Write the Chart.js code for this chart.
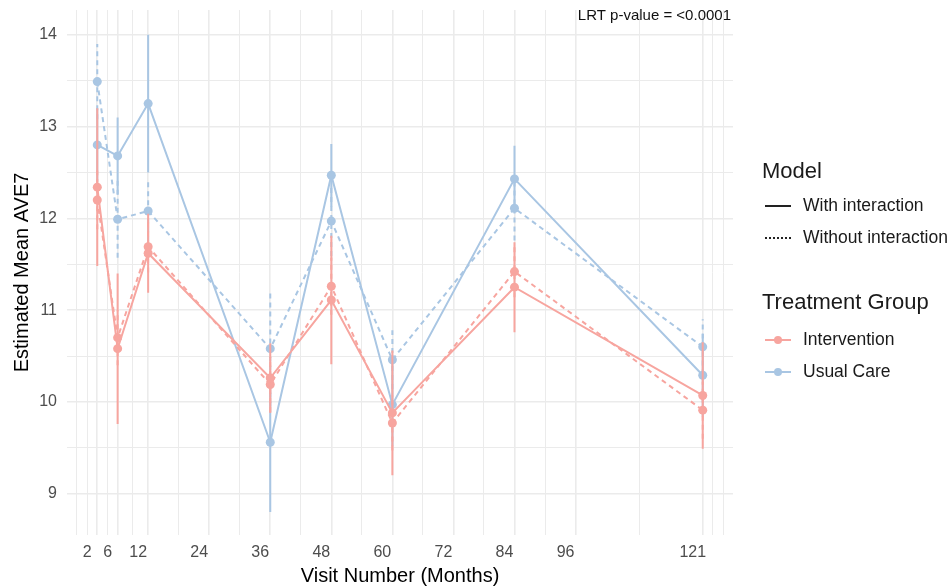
<!DOCTYPE html>
<html>
<head>
<meta charset="utf-8">
<script src="https://cdn.jsdelivr.net/npm/chart.js@4"></script>
<style>
  body { margin: 0; background: #fff; font-family: 'Liberation Sans', Arial, sans-serif; }
  #wrap { position: relative; width: 952px; height: 588px; overflow: hidden; }
  .leg { position: absolute; color: #1a1a1a; white-space: nowrap; }
  .legTitle { font-size: 22px; left: 762px; }
  .legItem { font-size: 17.5px; left: 803px; }
  .key { position: absolute; left: 765px; width: 26px; height: 0; }
  .dot { position: absolute; left: 774px; width: 8px; height: 8px; border-radius: 50%; }
</style>
</head>
<body>
<div id="wrap">
  <canvas id="chart" width="952" height="588"></canvas>

  <div class="leg legTitle" style="top:158px">Model</div>
  <div class="key" style="top:205px; border-top:2px solid #222"></div>
  <div class="leg legItem" style="top:195px">With interaction</div>
  <div class="key" style="top:237px; border-top:2px dotted #222"></div>
  <div class="leg legItem" style="top:227px">Without interaction</div>

  <div class="leg legTitle" style="top:289px">Treatment Group</div>
  <div class="key" style="top:339px; border-top:2px solid #F7A59F"></div>
  <div class="dot" style="top:336px; background:#F7A59F"></div>
  <div class="leg legItem" style="top:329px">Intervention</div>
  <div class="key" style="top:371px; border-top:2px solid #A9C6E3"></div>
  <div class="dot" style="top:368px; background:#A9C6E3"></div>
  <div class="leg legItem" style="top:361px">Usual Care</div>
</div>

<script>
// visit months and axis breaks
const visits = [2, 6, 12, 36, 48, 60, 84, 121];
const xBreaks = [2, 6, 12, 24, 36, 48, 60, 72, 84, 96, 121];
const xMinor = [-2, 0, 4, 9, 18, 30, 42, 54, 66, 78, 90, 108.5, 123, 125];
const yBreaks = [9, 10, 11, 12, 13, 14];
const yMinor = [9.5, 10.5, 11.5, 12.5, 13.5];

// Intervention
const intWith = [12.34, 10.58, 11.62, 10.26, 11.11, 9.88, 11.25, 10.07];
const intWithErr = [0.86, 0.82, 0.43, 0.38, 0.70, 0.68, 0.49, 0.58];
const intWithout = [12.20, 10.70, 11.69, 10.19, 11.26, 9.77, 11.42, 9.91];
const intWithoutErr = [0.32, 0.30, 0.28, 0.30, 0.31, 0.30, 0.28, 0.31];

// Usual Care
const ucWith = [12.80, 12.68, 13.25, 9.56, 12.47, 9.97, 12.43, 10.29];
const ucWithErr = [0.40, 0.42, 0.75, 0.76, 0.34, 0.45, 0.36, 0.45];
const ucWithout = [13.49, 11.99, 12.08, 10.58, 11.97, 10.46, 12.11, 10.60];
const ucWithoutErr = [0.41, 0.42, 0.33, 0.63, 0.38, 0.32, 0.35, 0.30];

const pink = '#F7A59F';
const blue = '#A9C6E3';
const gridColor = '#EBEBEB';
const fontFam = '"Liberation Sans", Arial, sans-serif';

function pts(vals) {
    return visits.map((v, i) => ({ x: v, y: vals[i] }));
}

// vertical error bars as broken line segments
function errPts(vals, errs) {
    const out = [];
    visits.forEach((v, i) => {
        out.push({ x: v, y: vals[i] - errs[i] });
        out.push({ x: v, y: vals[i] + errs[i] });
        out.push({ x: v, y: null });
    });
    return out;
}

function lineSet(label, vals, color, dashed) {
    return {
        label: label,
        data: pts(vals),
        borderColor: color,
        backgroundColor: color,
        borderWidth: 2,
        borderDash: dashed ? [5, 4] : [],
        pointRadius: 4.5,
        pointBorderWidth: 0,
        pointBackgroundColor: color,
        tension: 0
    };
}

function errSet(vals, errs, color, dashed) {
    return {
        data: errPts(vals, errs),
        borderColor: color,
        borderWidth: 2,
        borderDash: dashed ? [5, 4] : [],
        pointRadius: 0,
        spanGaps: false
    };
}

// LRT annotation in top right of plot
const lrtText = {
    id: 'lrtText',
    afterDraw(chart) {
        const ctx = chart.ctx;
        ctx.save();
        ctx.font = '15px ' + fontFam;
        ctx.fillStyle = '#111';
        ctx.textAlign = 'right';
        ctx.textBaseline = 'middle';
        ctx.fillText('LRT p-value = <0.0001', chart.chartArea.right - 2, 16);
        ctx.restore();
    }
};

const xGrid = xBreaks.concat(xMinor).sort((a, b) => a - b);
const yGrid = yBreaks.concat(yMinor).sort((a, b) => a - b);

new Chart(document.getElementById('chart'), {
    type: 'line',
    data: {
        datasets: [
            lineSet('Intervention - with', intWith, pink, false),
            lineSet('Intervention - without', intWithout, pink, true),
            errSet(intWith, intWithErr, pink, false),
            errSet(intWithout, intWithoutErr, pink, true),
            lineSet('Usual Care - with', ucWith, blue, false),
            lineSet('Usual Care - without', ucWithout, blue, true),
            errSet(ucWith, ucWithErr, blue, false),
            errSet(ucWithout, ucWithoutErr, blue, true)
        ]
    },
    options: {
        responsive: false,
        animation: false,
        events: [],
        layout: { padding: { left: 10, right: 219, top: 10, bottom: 0 } },
        plugins: {
            legend: { display: false },
            tooltip: { enabled: false }
        },
        scales: {
            x: {
                type: 'linear',
                min: -3.95,
                max: 126.95,
                afterBuildTicks: (s) => { s.ticks = xGrid.map(v => ({ value: v })); },
                afterFit: (s) => { s.height = 53; s.paddingLeft = 0; s.paddingRight = 0; },
                border: { display: false },
                grid: {
                    drawTicks: false,
                    color: gridColor,
                    lineWidth: (c) => xBreaks.includes(c.tick.value) ? 1.6 : 1
                },
                ticks: {
                    autoSkip: false,
                    maxRotation: 0,
                    padding: 8,
                    labelOffset: -10,
                    color: '#4D4D4D',
                    font: { size: 16, family: fontFam },
                    callback: (v) => xBreaks.includes(v) ? String(v) : ''
                },
                title: {
                    display: true,
                    text: 'Visit Number (Months)',
                    color: '#000',
                    padding: 0,
                    font: { size: 20, family: fontFam }
                }
            },
            y: {
                min: 8.55,
                max: 14.27,
                afterBuildTicks: (s) => { s.ticks = yGrid.map(v => ({ value: v })); },
                afterFit: (s) => { s.width = 57; s.paddingTop = 0; s.paddingBottom = 0; },
                border: { display: false },
                grid: {
                    drawTicks: false,
                    color: gridColor,
                    lineWidth: (c) => yBreaks.includes(c.tick.value) ? 1.6 : 1
                },
                ticks: {
                    autoSkip: false,
                    padding: 10,
                    color: '#4D4D4D',
                    font: { size: 16, family: fontFam },
                    callback: (v) => yBreaks.includes(v) ? String(v) : ''
                },
                title: {
                    display: true,
                    text: 'Estimated Mean AVE7',
                    color: '#000',
                    padding: 0,
                    font: { size: 20, family: fontFam }
                }
            }
        }
    },
    plugins: [lrtText]
});
</script>
</body>
</html>
